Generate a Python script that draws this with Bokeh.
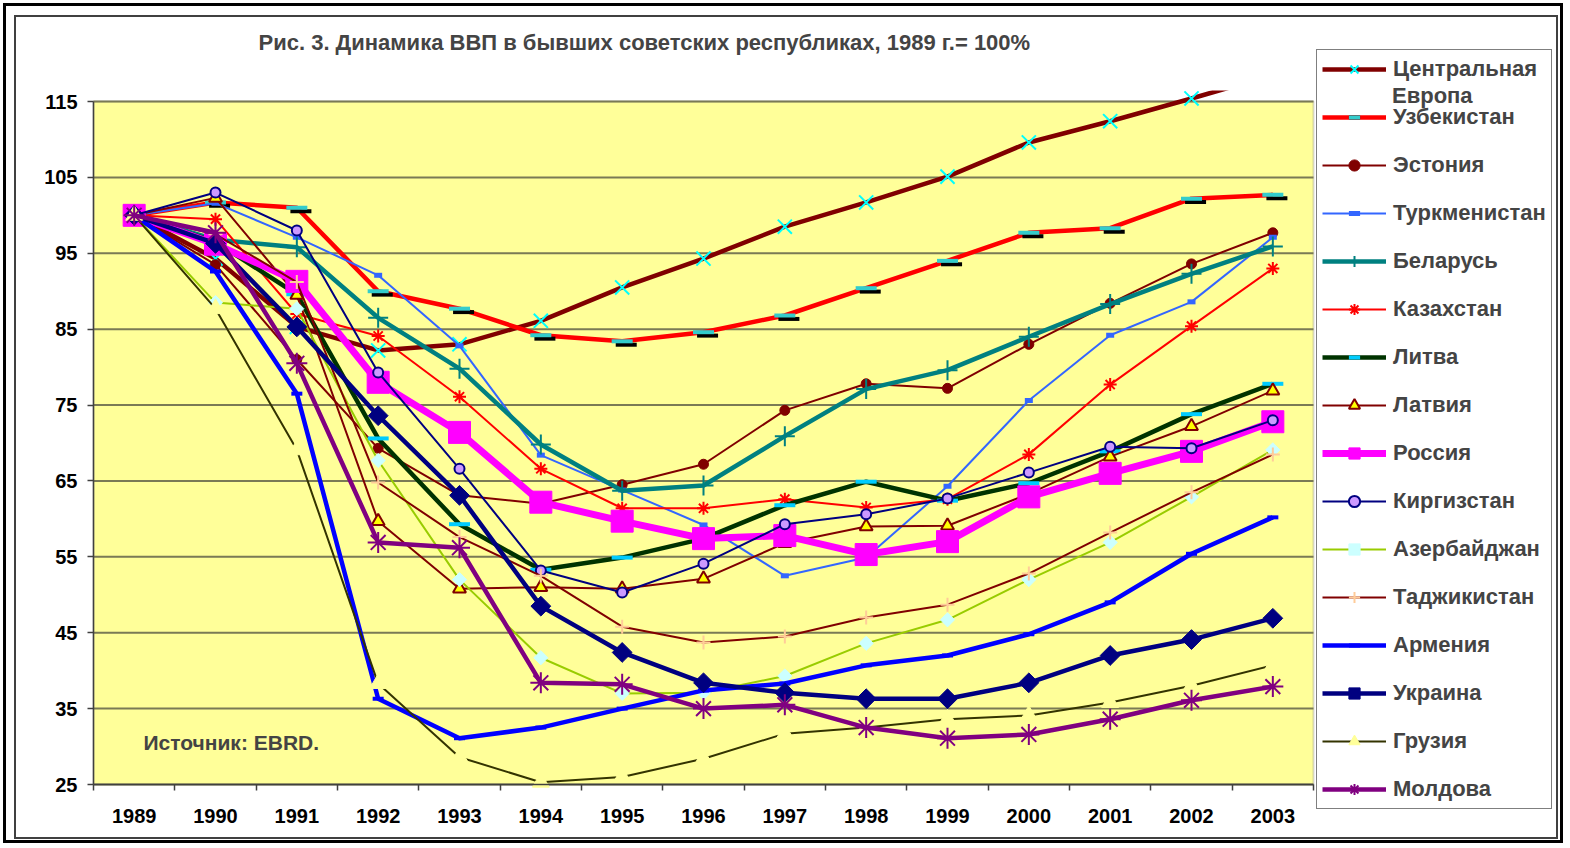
from bokeh.plotting import figure
from bokeh.models import (ColumnDataSource, FixedTicker, CustomJSTickFormatter,
                          BoxAnnotation, Label, Legend, LegendItem)
from bokeh.transform import dodge
from bokeh.embed import file_html
from bokeh.resources import INLINE

# ---------------- data ----------------
years = ["1989", "1990", "1991", "1992", "1993", "1994", "1995", "1996",
         "1997", "1998", "1999", "2000", "2001", "2002", "2003"]
y_ticks = [25, 35, 45, 55, 65, 75, 85, 95, 105, 115]

central_europe = [100, 94.3, 85.3, 82.2, 83.0, 86.1, 90.5, 94.3, 98.5, 101.7, 105.1, 109.6, 112.4, 115.4, 118.5]
uzbekistan     = [100, 101.7, 101.0, 90.0, 87.7, 84.2, 83.4, 84.6, 86.8, 90.4, 94.0, 97.7, 98.3, 102.2, 102.7]
estonia        = [100, 93.5, 81.0, 69.3, 63.1, 62.0, 64.5, 67.2, 74.3, 77.8, 77.2, 83.0, 88.4, 93.6, 97.7]
turkmenistan   = [100, 101.6, 97.1, 92.1, 82.8, 68.4, 63.8, 59.2, 52.5, 54.9, 64.3, 75.6, 84.2, 88.6, 97.1]
belarus        = [100, 96.8, 95.8, 86.5, 79.8, 69.8, 63.7, 64.4, 70.9, 77.1, 79.6, 84.0, 88.3, 92.3, 95.9]
kazakhstan     = [100, 99.5, 87.0, 84.1, 76.1, 66.6, 61.4, 61.4, 62.6, 61.5, 62.6, 68.5, 77.7, 85.4, 93.0]
lithuania      = [100, 96.5, 89.6, 70.6, 59.3, 53.3, 54.9, 57.4, 61.8, 64.9, 62.4, 64.7, 68.9, 73.8, 77.8]
latvia         = [100, 102.3, 89.5, 59.7, 50.8, 51.0, 50.8, 52.1, 56.8, 59.0, 59.1, 63.3, 68.2, 72.2, 76.9]
russia         = [100, 96.2, 91.3, 78.0, 71.4, 62.2, 59.7, 57.4, 57.8, 55.3, 57.0, 62.9, 66.0, 68.9, 72.8]
kyrgyzstan     = [100, 103.0, 98.0, 79.3, 66.6, 53.2, 50.3, 54.1, 59.3, 60.6, 62.7, 66.1, 69.5, 69.3, 73.0]
azerbaijan     = [100, 88.5, 87.7, 67.7, 52.0, 41.7, 37.0, 37.1, 39.3, 43.6, 46.7, 52.0, 56.9, 62.9, 69.1]
tajikistan     = [100, 97.5, 91.2, 64.8, 57.6, 52.5, 45.8, 43.7, 44.5, 47.0, 48.7, 52.8, 58.2, 63.5, 68.5]
armenia        = [100, 92.6, 76.5, 36.3, 31.1, 32.5, 35.0, 37.4, 38.3, 40.7, 42.0, 44.8, 49.0, 55.4, 60.2]
ukraine        = [100, 96.3, 85.3, 73.6, 63.1, 48.5, 42.4, 38.4, 37.1, 36.3, 36.3, 38.4, 42.0, 44.1, 46.9]
georgia        = [100, 87.7, 69.1, 38.3, 28.6, 25.3, 26.0, 28.4, 31.7, 32.5, 33.6, 34.1, 35.8, 38.0, 40.7]
moldova        = [100, 97.7, 80.5, 56.9, 56.2, 38.4, 38.2, 35.0, 35.5, 32.5, 31.1, 31.6, 33.6, 36.1, 37.9]

series_names = ["Центральная Европа", "Узбекистан", "Эстония", "Туркменистан", "Беларусь",
                "Казахстан", "Литва", "Латвия", "Россия", "Киргизстан", "Азербайджан",
                "Таджикистан", "Армения", "Украина", "Грузия", "Молдова"]
series_values = [central_europe, uzbekistan, estonia, turkmenistan, belarus, kazakhstan,
                 lithuania, latvia, russia, kyrgyzstan, azerbaijan, tajikistan, armenia,
                 ukraine, georgia, moldova]

# ---------------- styles ----------------
styles = [
    dict(lc="#800000", lw=4.5, m="x", ms=20, fc="#00FFFF", mc="#00FFFF", mlw=2),
    dict(lc="#FF0000", lw=4.5, m="dash", ms=21, fc="#33CCCC", mc="#33CCCC", mlw=4, shadow=True),
    dict(lc="#800000", lw=2, m="circle", ms=10, fc="#800000", mc="#800000", mlw=1),
    dict(lc="#3366FF", lw=2, m="dash", ms=8, fc="#3366FF", mc="#3366FF", mlw=5),
    dict(lc="#008080", lw=4.5, m="cross", ms=20, fc="#008080", mc="#008080", mlw=2),
    dict(lc="#FF0000", lw=2, m="asterisk", ms=13, fc="#FF0000", mc="#FF0000", mlw=2),
    dict(lc="#003300", lw=4.5, m="dash", ms=21, fc="#00CCFF", mc="#00CCFF", mlw=4),
    dict(lc="#800000", lw=2, m="triangle", ms=13, fc="#FFFF00", mc="#800000", mlw=2),
    dict(lc="#FF00FF", lw=7, m="square", ms=22, fc="#FF00FF", mc="#FF00FF", mlw=1),
    dict(lc="#000080", lw=2, m="circle", ms=10, fc="#CC99FF", mc="#000080", mlw=2),
    dict(lc="#99CC00", lw=2, m="square", ms=10, fc="#CCFFFF", mc="#CCFFFF", mlw=1, ang=0.785398),
    dict(lc="#800000", lw=2, m="cross", ms=14, fc="#FFCC99", mc="#FFCC99", mlw=2),
    dict(lc="#0000FF", lw=4.5, m="dash", ms=11, fc="#0000FF", mc="#0000FF", mlw=4),
    dict(lc="#000080", lw=4.5, m="square", ms=14, fc="#000080", mc="#000080", mlw=1, ang=0.785398),
    dict(lc="#333300", lw=2, m="triangle", ms=17, fc="#FFFF99", mc="#FFFF99", mlw=1),
    dict(lc="#800080", lw=4.5, m="asterisk", ms=21, fc="#800080", mc="#800080", mlw=2),
]

FONT = "Liberation Sans"
xs = list(range(len(years)))
n = len(years)

# ---------------- layout (pixels) ----------------
W, H = 1566, 846
PX_L, PX_R, PX_T, PX_B = 93, 1313, 101, 784      # plot area edges
CLIP_TOP = 90                                    # lines are cut here
sx = (PX_R - PX_L) / n
sy = (PX_B - PX_T) / (y_ticks[-1] - y_ticks[0])
x_start = -0.5 - PX_L / sx
x_end = n - 0.5 + (W - PX_R) / sx
y_start = y_ticks[0] - (H - PX_B) / sy
y_end = y_ticks[-1] + PX_T / sy

p = figure(width=W, height=H, x_range=(x_start, x_end), y_range=(y_start, y_end),
           output_backend="svg", toolbar_location=None,
           min_border_left=0, min_border_right=0, min_border_top=0, min_border_bottom=0,
           background_fill_color=None, border_fill_color=None, outline_line_color=None)
p.styles = {"box-shadow": ("inset 0 0 0 3px white, inset 0 0 0 6px black, "
                           "inset 3px 4px 0 11px white, inset 3px 4px 0 13px #404040")}

plot_area = BoxAnnotation(left=-0.5, right=n - 0.5, bottom=y_ticks[0], top=y_ticks[-1],
                          fill_color="#FFFF99", fill_alpha=1,
                          line_color="#808080", line_width=2, level="image")
p.add_layout(plot_area)

# horizontal grid lines across the plot area only
p.xgrid.visible = False
p.ygrid.visible = False
p.segment(x0=[-0.5] * len(y_ticks), x1=[n - 0.5] * len(y_ticks), y0=y_ticks, y1=y_ticks,
          line_color="#7a7a55", line_width=2, level="underlay")

p.yaxis.ticker = FixedTicker(ticks=y_ticks)
p.yaxis.bounds = (y_ticks[0], y_ticks[-1])
p.yaxis.fixed_location = -0.5
p.xaxis.ticker = FixedTicker(ticks=xs, minor_ticks=[i - 0.5 for i in range(n + 1)])
p.xaxis.bounds = (-0.5, n - 0.5)
p.xaxis.fixed_location = y_ticks[0]
p.xaxis.formatter = CustomJSTickFormatter(args=dict(labels=years),
                                          code="const i = Math.round(tick); return (i >= 0 && i < labels.length) ? labels[i] : '';")
for ax in (p.xaxis[0], p.yaxis[0]):
    ax.axis_line_color = "#404040"
    ax.axis_line_width = 1.5
    ax.major_tick_line_color = "#404040"
    ax.minor_tick_line_color = "#404040"
    ax.major_tick_line_width = 1.5
    ax.minor_tick_line_width = 1.5
    ax.major_label_text_font = FONT
    ax.major_label_text_font_style = "bold"
    ax.major_label_text_font_size = "20px"
    ax.major_label_text_color = "black"
p.yaxis.major_tick_out = 6
p.yaxis.major_tick_in = 0
p.yaxis.minor_tick_out = 0
p.yaxis.major_label_standoff = 10
p.xaxis.major_tick_out = 0
p.xaxis.major_tick_in = 0
p.xaxis.minor_tick_out = 6
p.xaxis.minor_tick_in = 0
p.xaxis.major_label_standoff = 18

items = []
first_line = None
for name, vals, st in zip(series_names, series_values, styles):
    src = ColumnDataSource(dict(x=xs, y=vals))
    rs = []
    rs.append(p.line("x", "y", source=src, line_color=st["lc"], line_width=st["lw"],
                     line_join="round"))
    if first_line is None:
        first_line = rs[0]
    if st.get("shadow"):
        rs.append(p.scatter(x=dodge("x", 0.05, range=p.x_range), y=dodge("y", -0.45, range=p.y_range),
                            source=src, marker="dash", size=st["ms"], line_color="black",
                            line_width=st["mlw"]))
    rs.append(p.scatter("x", "y", source=src, marker=st["m"], size=st["ms"],
                        fill_color=st["fc"], line_color=st["mc"], line_width=st["mlw"],
                        angle=st.get("ang", 0)))
    label = name.split(" ")[0] if name == "Центральная Европа" else name
    items.append(LegendItem(label=label, renderers=rs))

# lines leaving the chart at the top are cut off (as in the original)
top_mask = BoxAnnotation(left=-0.5, right=n - 0.5,
                         bottom=y_ticks[-1] + (PX_T - CLIP_TOP) / sy,
                         top=y_ticks[-1] + (PX_T - 18) / sy,
                         fill_color="white", fill_alpha=1, line_color=None)
p.add_layout(top_mask)

legend = Legend(items=items, location=(1316, 37), padding=5, spacing=20, margin=0,
                glyph_width=64, glyph_height=28, label_height=26, label_standoff=7,
                label_text_font=FONT, label_text_font_style="bold", label_text_font_size="22px",
                border_line_color="black", border_line_width=1.5,
                background_fill_color="white", background_fill_alpha=1)
p.add_layout(legend, "center")

# second line of the wrapped legend label "Центральная Европа"
legend_wrap = Legend(items=[LegendItem(label="Европа", renderers=[first_line])],
                     location=(1392, H - 96 - 13), padding=0, spacing=0, margin=0,
                     glyph_width=0, glyph_height=26, label_height=26, label_standoff=0,
                     label_text_font=FONT, label_text_font_style="bold", label_text_font_size="22px",
                     border_line_color=None, border_line_alpha=0,
                     background_fill_color=None, background_fill_alpha=0)
p.add_layout(legend_wrap, "center")

p.add_layout(Label(x=258, y=H - 42, x_units="screen", y_units="screen",
                   text="Рис. 3. Динамика ВВП в бывших советских республиках, 1989 г.= 100%",
                   text_font=FONT, text_font_style="bold", text_font_size="22px",
                   text_baseline="middle"))
p.add_layout(Label(x=143, y=H - 742, x_units="screen", y_units="screen", text="Источник: EBRD.",
                   text_font=FONT, text_font_style="bold", text_font_size="21px",
                   text_baseline="middle"))

open("out.html", "w").write(file_html(p, INLINE))
